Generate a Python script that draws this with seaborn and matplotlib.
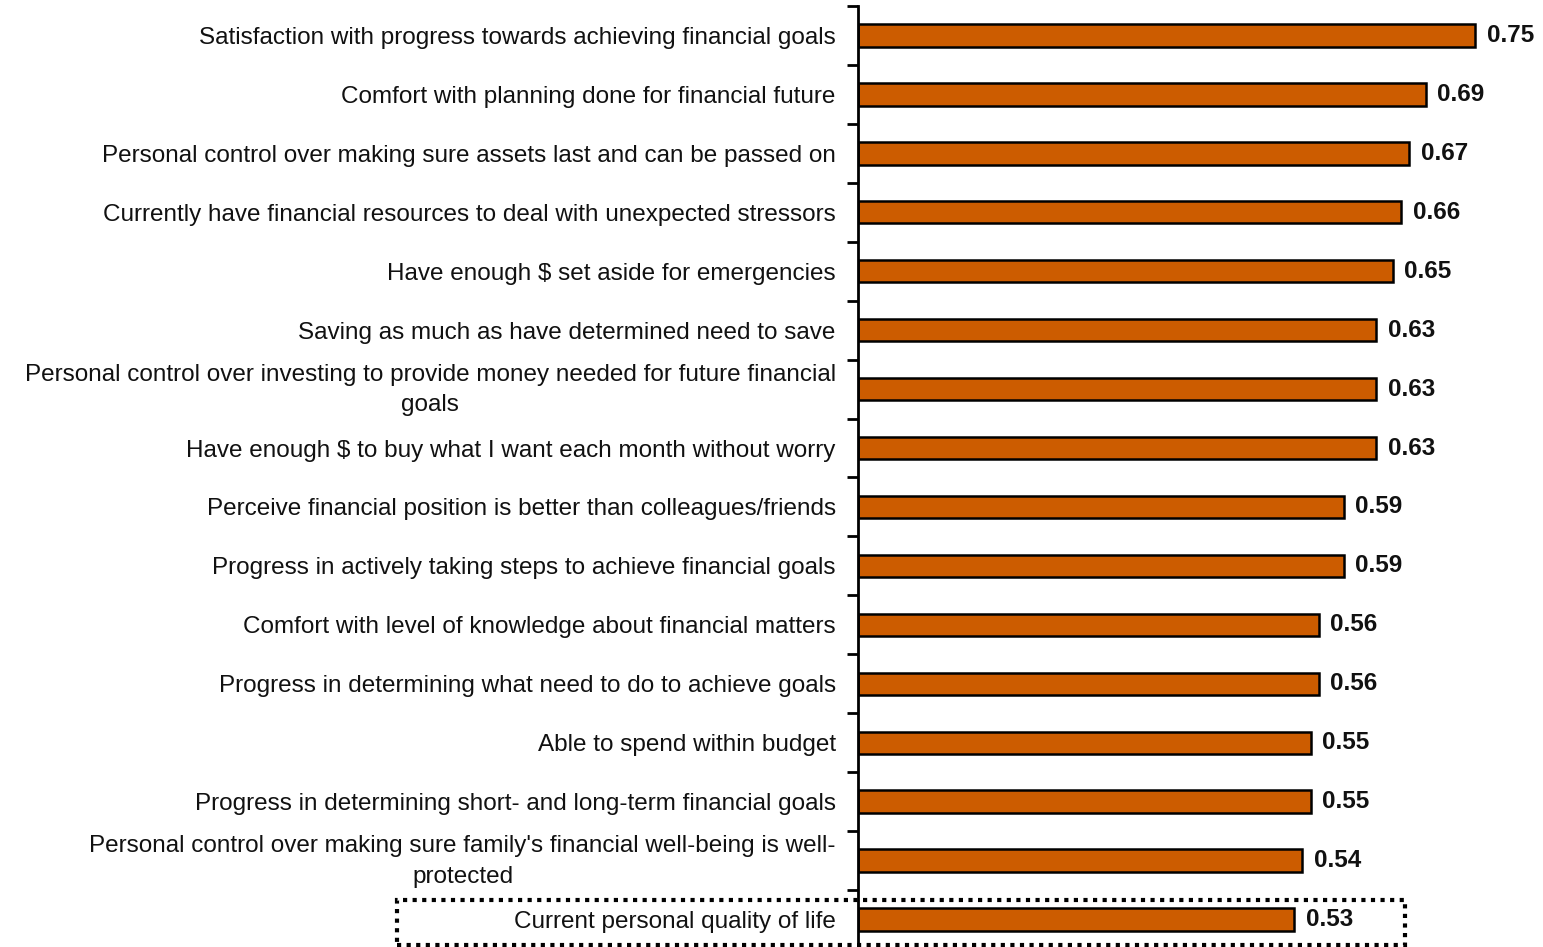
import matplotlib
matplotlib.use("Agg")
import matplotlib.pyplot as plt
import matplotlib.patches as mpatches
import matplotlib.transforms as mtransforms
import numpy as np
import pandas as pd
import seaborn as sns

categories = [
    "Satisfaction with progress towards achieving financial goals",
    "Comfort with planning done for financial future",
    "Personal control over making sure assets last and can be passed on",
    "Currently have financial resources to deal with unexpected stressors",
    "Have enough $ set aside for emergencies",
    "Saving as much as have determined need to save",
    "Personal control over investing to provide money needed for future financial\ngoals",
    "Have enough $ to buy what I want each month without worry",
    "Perceive financial position is better than colleagues/friends",
    "Progress in actively taking steps to achieve financial goals",
    "Comfort with level of knowledge about financial matters",
    "Progress in determining what need to do to achieve goals",
    "Able to spend within budget",
    "Progress in determining short- and long-term financial goals",
    "Personal control over making sure family's financial well-being is well-\nprotected",
    "Current personal quality of life",
]
values = [0.75, 0.69, 0.67, 0.66, 0.65, 0.63, 0.63, 0.63,
          0.59, 0.59, 0.56, 0.56, 0.55, 0.55, 0.54, 0.53]

df = pd.DataFrame({"item": categories, "score": values})

sns.set_theme(style="white")
plt.rcParams["font.family"] = ["Liberation Sans", "DejaVu Sans"]

W, H = 1543, 947
fig = plt.figure(figsize=(W / 100, H / 100), dpi=100)
ax_left, ax_right = 858 / W, 1541 / W
ax_top, ax_bot = 1 - 6 / H, 1 - 949 / H
ax = fig.add_axes([ax_left, ax_bot, ax_right - ax_left, ax_top - ax_bot])

sns.barplot(data=df, y="item", x="score", orient="h", ax=ax,
            color="#CC5C00", saturation=1, width=0.38,
            edgecolor="black", linewidth=1.8)

ax.set_xlim(0, 0.83)
ax.set_ylim(len(categories) - 0.5, -0.5)
ax.set_xlabel("")
ax.set_ylabel("")
ax.set_xticks([])

for side in ["top", "right", "bottom"]:
    ax.spines[side].set_visible(False)
ax.spines["left"].set_linewidth(2)
ax.spines["left"].set_color("black")

ax.set_yticks(np.arange(-0.5, len(categories), 1), minor=True)
ax.tick_params(axis="y", which="minor", length=8, width=2, color="black", left=True)
ax.tick_params(axis="y", which="major", length=0, pad=16, labelsize=17.5, labelcolor="#111111")

# nudge wrapped labels up so both lines sit evenly around the bar
lift = mtransforms.ScaledTranslation(0, 6 / 100, fig.dpi_scale_trans)
for lbl in ax.get_yticklabels():
    lbl.set_multialignment("center")
    lbl.set_linespacing(1.5)
    if "\n" in lbl.get_text():
        lbl.set_transform(lbl.get_transform() + lift)

for i, v in enumerate(values):
    ax.text(v + 0.014, i, f"{v:.2f}", va="center", ha="left",
            fontsize=17.5, fontweight="bold", color="#111111")

# dotted frame around the last item
box = mpatches.Rectangle((397 / W, 1 - 945 / H), (1405 - 397) / W, (945 - 900) / H,
                         transform=fig.transFigure, fill=False,
                         edgecolor="black", linewidth=3, linestyle=(0, (1, 1.3)),
                         clip_on=False)
fig.patches.append(box)

fig.savefig("out.png", dpi=100)
